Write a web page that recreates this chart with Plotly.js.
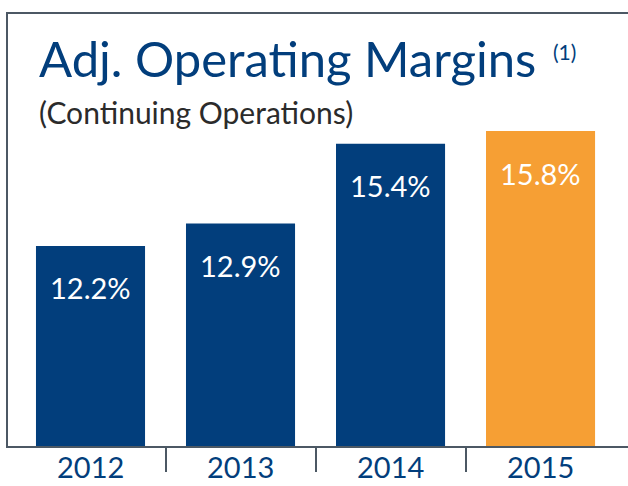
<!DOCTYPE html>
<html>
<head>
<meta charset="utf-8">
<script src="https://cdn.plot.ly/plotly-3.0.1.min.js"></script>
<style>html,body{margin:0;padding:0;background:#fff;}#chart{width:628px;height:486px;}</style>
</head>
<body>
<div id="chart"></div>
<script>
const years = ["2012", "2013", "2014", "2015"];
const margins = [12.2, 12.9, 15.4, 15.8];
const labels = ["12.2%", "12.9%", "15.4%", "15.8%"];
const barColors = ["#023e7c", "#023e7c", "#023e7c", "#f69f34"];
const titleText = "Adj. Operating Margins";
const subtitleText = "(Continuing Operations)";
const noteText = "(1)";

const FONT = "Lato, 'Open Sans', sans-serif";
const NAVY = "#023e7c";
const LINE = "#4c5864";

const xr = [-0.55, 3.583];
const yr = [5.93, 19.47];

const traces = [
  {
    type: "bar",
    x: years.map((_, i) => i),
    y: margins,
    marker: {color: barColors, line: {width: 0}},
    width: 0.727,
    hoverinfo: "skip",
    xaxis: "x",
    yaxis: "y"
  },
  {
    type: "scatter",
    x: [],
    y: [],
    xaxis: "x2",
    yaxis: "y",
    showlegend: false,
    hoverinfo: "skip"
  }
];

const annotations = margins.map((v, i) => ({
  x: i, y: v, xref: "x", yref: "y",
  text: labels[i], showarrow: false,
  yanchor: "middle", xanchor: "center", yshift: -42,
  font: {family: FONT, size: 29, color: "#ffffff"}
}));

years.forEach((yr_, i) => annotations.push({
  x: i, y: -0.0926, xref: "x", yref: "paper",
  text: yr_, showarrow: false,
  yanchor: "bottom", xanchor: "center",
  font: {family: FONT, size: 29, color: NAVY}
}));

annotations.push({
  xref: "paper", yref: "paper", x: 0.046, y: 0.898,
  xanchor: "left", yanchor: "middle", showarrow: false,
  text: titleText,
  font: {family: FONT, size: 49, color: NAVY}
});
annotations.push({
  xref: "paper", yref: "paper", x: 0.876, y: 0.914,
  xanchor: "left", yanchor: "middle", showarrow: false,
  text: noteText,
  font: {family: FONT, size: 21, color: NAVY}
});
annotations.push({
  xref: "paper", yref: "paper", x: 0.046, y: 0.773,
  xanchor: "left", yanchor: "middle", showarrow: false,
  text: subtitleText,
  font: {family: FONT, size: 30, color: "#2b2b2b"}
});

const layout = {
  width: 628, height: 486,
  margin: {l: 8, r: 0, t: 14, b: 40, pad: 0},
  paper_bgcolor: "#ffffff",
  plot_bgcolor: "#ffffff",
  showlegend: false,
  xaxis: {
    range: xr, tickvals: [0, 1, 2, 3], ticktext: years,
    showticklabels: false,
    showgrid: false, zeroline: false,
    showline: true, linecolor: LINE, linewidth: 2, mirror: true,
    ticks: "",
    fixedrange: true
  },
  xaxis2: {
    range: xr, overlaying: "x", anchor: "y", side: "bottom",
    tickvals: [0.5, 1.5, 2.5], showticklabels: false,
    ticks: "outside", ticklen: 25, tickwidth: 2, tickcolor: LINE,
    showgrid: false, zeroline: false, showline: false
  },
  yaxis: {
    range: yr, showgrid: false, zeroline: false,
    showticklabels: false, ticks: "",
    showline: true, linecolor: LINE, linewidth: 2,
    fixedrange: true
  },
  annotations: annotations
};

Plotly.newPlot("chart", traces, layout, {displayModeBar: false, staticPlot: true});
</script>
</body>
</html>
